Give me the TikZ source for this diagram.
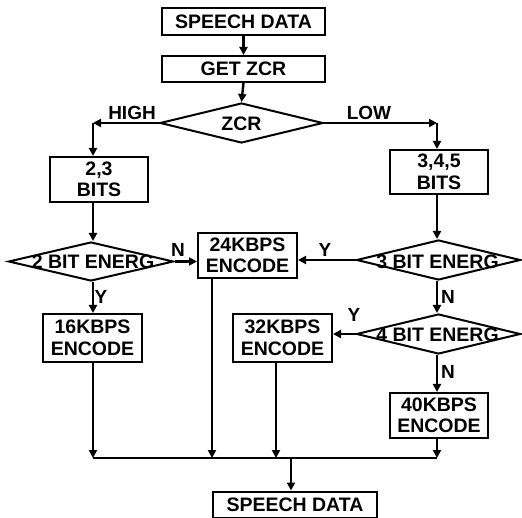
\documentclass[tikz,border=0pt]{standalone}
\usepackage{fontspec}
\setmainfont{Liberation Sans}
\usetikzlibrary{shapes.geometric,arrows.meta,calc}
\tikzset{
  box/.style={draw, line width=2pt, inner sep=0pt, align=center, font=\bfseries\fontsize{19.5}{21.5}\selectfont},
  dia/.style={draw, diamond, line width=2pt, inner sep=0pt},
  txt/.style={inner sep=0pt, font=\bfseries\fontsize{19.5}{22}\selectfont},
  lab/.style={inner sep=0pt, font=\bfseries\fontsize{19}{21}\selectfont},
  arr/.style={line width=2.4pt, -{Triangle[length=8pt,width=8pt]}},
  ln/.style={line width=2.4pt}
}
\begin{document}
\begin{tikzpicture}[x=1pt,y=-1pt]
\useasboundingbox (0,0) rectangle (522,518);
% boxes
\node[box, minimum width=163pt, minimum height=27pt] (sd1) at (243.5,21.5) {SPEECH DATA};
\node[box, minimum width=163pt, minimum height=26pt] (getz) at (243.5,69) {GET ZCR};
\node[dia, minimum width=163pt, minimum height=40pt] (zcr) at (241.5,123) {};
\node[txt] (zcrt) at (241.5,124) {ZCR};
\node[box, minimum width=98pt, minimum height=45pt] (b23) at (99,179.5) {2,3\\BITS};
\node[box, minimum width=98pt, minimum height=44pt] (b345) at (439,172) {3,4,5\\BITS};
\node[dia, minimum width=165pt, minimum height=39pt] (d2) at (91,261.5) {};
\node[txt] (d2t) at (93,262) {2 BIT ENERG};
\node[box, minimum width=99pt, minimum height=45pt] (e24) at (247.5,255.5) {24KBPS\\ENCODE};
\node[dia, minimum width=164pt, minimum height=40pt] (d3) at (438.5,260) {};
\node[txt] (d3t) at (437.5,262) {3 BIT ENERG};
\node[dia, minimum width=164pt, minimum height=40pt] (d4) at (438.5,334) {};
\node[txt] (d4t) at (437.5,335) {4 BIT ENERG};
\node[box, minimum width=99pt, minimum height=48pt] (e32) at (282.5,338) {32KBPS\\ENCODE};
\node[box, minimum width=99pt, minimum height=48pt] (e16) at (92.5,338) {16KBPS\\ENCODE};
\node[box, minimum width=98pt, minimum height=45pt] (e40) at (439,415.5) {40KBPS\\ENCODE};
\node[box, minimum width=164pt, minimum height=26pt] (sd2) at (295,504.5) {SPEECH DATA};
% coordinates
\coordinate (c1) at (93,123);
\coordinate (c2) at (437,123);
\coordinate (m1) at (93,458);
\coordinate (m2) at (212,458);
\coordinate (m3) at (276,458);
\coordinate (m4) at (437,458);
\coordinate (mc) at (291,458);
% connectors
\draw[arr] (sd1.south) -- (getz.north);
\draw[arr] (getz.south) -- (zcr.north);
\draw[arr] (zcr.west) -- (c1);
\draw[arr] (c1) -- (c1 |- b23.north);
\draw[arr] (zcr.east) -- (c2);
\draw[arr] (c2) -- (c2 |- b345.north);
\draw[arr] (b23.south -| c1) -- (d2.north -| c1);
\draw[arr] (d2.east) -- (d2.east -| e24.west);
\draw[arr] (d2.south -| c1) -- (e16.north -| c1);
\draw[arr] (b345.south -| c2) -- (d3.north -| c2);
\draw[arr] (d3.west) -- (d3.west -| e24.east);
\draw[arr] (d3.south -| c2) -- (d4.north -| c2);
\draw[arr] (d4.west) -- (d4.west -| e32.east);
\draw[arr] (d4.south -| c2) -- (e40.north -| c2);
\draw[arr] (e16.south -| m1) -- (m1);
\draw[arr] (e24.south -| m2) -- (m2);
\draw[arr] (e32.south -| m3) -- (m3);
\draw[arr] (e40.south -| m4) -- (m4);
\draw[ln] (m1) -- (m4);
\draw[arr] (mc) -- (mc |- sd2.north);
% labels
\node[lab] (lhigh) at (132,113) {HIGH};
\node[lab] (llow) at (369,113) {LOW};
\node[lab] (ln2) at (178,250) {N};
\node[lab] (ly3) at (325,250) {Y};
\node[lab] (ln3) at (448,297) {N};
\node[lab] (ly4) at (354,315) {Y};
\node[lab] (ly2) at (101,297) {Y};
\node[lab] (ln4) at (448,372) {N};
\end{tikzpicture}
\end{document}
